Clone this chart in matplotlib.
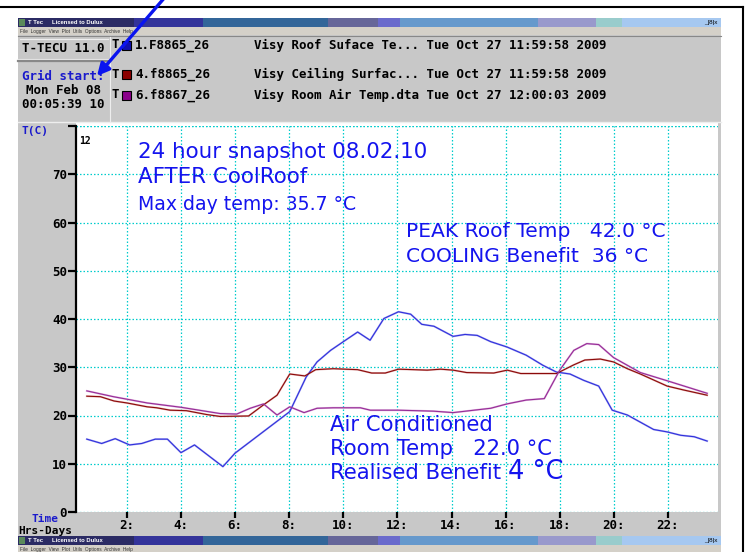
import matplotlib
matplotlib.use("Agg")
import matplotlib.pyplot as plt
from matplotlib.patches import Rectangle

# ---------------- data ----------------
roof_h = [0.52, 1.07, 1.57, 2.1, 2.55, 3.05, 3.5, 4.0, 4.5, 5.55, 6.0, 8.02, 8.63, 9.03,
          9.53, 10.08, 10.53, 10.99, 11.5, 12.04, 12.49, 12.9, 13.35, 14.06, 14.5, 14.95,
          15.45, 16.05, 16.76, 17.38, 17.88, 18.38, 18.88, 19.44, 19.94, 20.5, 21.47,
          21.97, 22.47, 22.97, 23.45]
roof_t = [15.1, 14.2, 15.2, 13.9, 14.2, 15.1, 15.1, 12.3, 13.9, 9.4, 12.2, 20.8, 28.0, 31.1,
          33.5, 35.6, 37.3, 35.6, 40.1, 41.5, 41.0, 38.9, 38.5, 36.4, 36.8, 36.6,
          35.3, 34.2, 32.5, 30.4, 29.0, 28.6, 27.3, 26.1, 21.1, 20.1, 17.1,
          16.6, 15.9, 15.6, 14.7]

ceil_h = [0.52, 1.02, 1.53, 2.0, 2.75, 3.1, 3.6, 4.2, 4.95, 5.45, 6.5, 7.05, 7.55, 8.02,
          8.58, 8.98, 9.63, 10.53, 11.05, 11.55, 12.04, 12.6, 13.1, 13.6, 14.06, 14.56,
          15.56, 16.06, 16.56, 17.88, 18.52, 18.93, 19.5, 19.99, 20.5, 20.98, 21.97,
          22.57, 23.45]
ceil_t = [24.0, 23.9, 23.0, 22.6, 21.8, 21.6, 21.1, 21.0, 20.2, 19.8, 19.9, 22.2, 24.2, 28.6,
          28.2, 29.5, 29.7, 29.5, 28.8, 28.8, 29.6, 29.5, 29.4, 29.6, 29.4, 28.9,
          28.8, 29.4, 28.7, 28.7, 30.5, 31.5, 31.7, 31.1, 29.7, 28.6, 26.1,
          25.3, 24.2]

room_h = [0.52, 1.5, 2.75, 4.0, 5.45, 6.06, 6.56, 7.05, 7.55, 8.02, 8.55, 9.03, 9.63, 10.63,
          11.0, 12.04, 13.33, 14.06, 15.45, 16.05, 16.76, 17.43, 18.0, 18.52, 19.0, 19.44,
          19.99, 20.98, 21.97, 23.45]
room_t = [25.1, 23.9, 22.6, 21.7, 20.4, 20.3, 21.5, 22.4, 20.1, 21.8, 20.6, 21.5, 21.6, 21.6,
          21.1, 21.1, 20.9, 20.6, 21.5, 22.4, 23.2, 23.5, 29.4, 33.5, 34.9, 34.7,
          32.0, 28.9, 27.2, 24.6]

y_ticks = [0, 10, 20, 30, 40, 50, 60, 70, 80]
y_labels = ["0", "10", "20", "30", "40", "50", "60", "70", ""]
x_ticks = [2, 4, 6, 8, 10, 12, 14, 16, 18, 20, 22]
x_labels = ["2:", "4:", "6:", "8:", "10:", "12:", "14:", "16:", "18:", "20:", "22:"]

legend_ids = ["1.F8865_26", "4.f8865_26", "6.f8867_26"]
legend_desc = ["Visy Roof Suface Te... Tue Oct 27 11:59:58 2009",
               "Visy Ceiling Surfac... Tue Oct 27 11:59:58 2009",
               "Visy Room Air Temp.dta Tue Oct 27 12:00:03 2009"]
legend_colors = ["#1010b0", "#8b0000", "#8b008b"]

# ---------------- figure ----------------
W, H = 747, 552
fig = plt.figure(figsize=(W / 100, H / 100), dpi=100, facecolor="white")
bg = fig.add_axes([0, 0, 1, 1], zorder=0)
bg.set_xlim(0, W)
bg.set_ylim(H, 0)
bg.axis("off")

MONO = "DejaVu Sans Mono"
SANS = ["Liberation Sans", "DejaVu Sans"]
WIDE = ["DejaVu Sans"]
GRAY = "#c8c8c8"

def rect(x0, y0, x1, y1, color, **kw):
    bg.add_patch(Rectangle((x0, y0), x1 - x0, y1 - y0, facecolor=color,
                           edgecolor=kw.pop("ec", "none"), lw=kw.pop("lw", 0), **kw))

# outer frame
bg.plot([0, 743], [7, 7], color="black", lw=1.5)
bg.plot([743, 743], [7, 552], color="black", lw=1.5)

# title bars
segs = [(18, 134, "#2b2b64"), (134, 203, "#34349a"), (203, 328, "#336699"),
        (328, 378, "#666699"), (378, 400, "#6a6acc"), (400, 538, "#6699cc"),
        (538, 596, "#9999cc"), (596, 622, "#99cccc"), (622, 721, "#a6c8f0")]
for y0, y1 in [(18, 27), (536, 545)]:
    for a, b, c in segs:
        rect(a, y0, b, y1, c)
    rect(19, y0 + 1, 25, y1 - 1, "#5a8a5a")
    bg.text(28, (y0 + y1) / 2, "T Tec", color="white", fontsize=4.2,
            fontweight="bold", va="center", family=SANS)
    bg.text(52, (y0 + y1) / 2, "Licensed to Dulux", color="white", fontsize=4.2,
            fontweight="bold", va="center", family=SANS)
    bg.text(704, (y0 + y1) / 2, "_|8|x", color="black", fontsize=4.5,
            va="center", family=SANS)
# menu bars
rect(18, 27, 721, 35, "#d4d0c8")
rect(18, 545, 721, 552, "#d4d0c8")
for y in [31, 549]:
    bg.text(20, y, "File  Logger  View  Plot  Utils  Options  Archive  Help",
            fontsize=3.4, color="#333333", va="center", family=SANS)

# header panel
rect(18, 35, 721, 122, GRAY)
bg.plot([18, 721], [36, 36], color="#888888", lw=0.8)
bg.plot([20, 108], [39, 39], color="#eeeeee", lw=0.8)
bg.plot([18, 110], [58.5, 58.5], color="#eeeeee", lw=0.8)
bg.plot([18, 110], [61, 61], color="#888888", lw=1.6)
bg.plot([110, 110], [37, 121], color="#eeeeee", lw=0.8)
bg.plot([18, 721], [121.5, 121.5], color="#eeeeee", lw=1.0)

bg.text(22, 48, "T-TECU 11.0", family=MONO, fontweight="bold", fontsize=9,
        va="center", color="black")
bg.text(22, 77, "Grid start:", family=MONO, fontweight="bold", fontsize=9,
        va="center", color="#1a1acc")
bg.text(26, 91, "Mon Feb 08", family=MONO, fontweight="bold", fontsize=9,
        va="center", color="black")
bg.text(22, 105, "00:05:39 10", family=MONO, fontweight="bold", fontsize=9,
        va="center", color="black")

for i, yy in enumerate([45, 74, 95]):
    bg.text(112, yy, "T", family=MONO, fontweight="bold", fontsize=9, va="center")
    rect(122, yy - 4.5, 131, yy + 4.5, legend_colors[i], ec="black", lw=0.8)
    bg.text(135, yy, legend_ids[i], family=MONO, fontweight="bold", fontsize=9,
            va="center")
    bg.text(254, yy, legend_desc[i], family=MONO, fontweight="bold", fontsize=9,
            va="center")

# gray surrounds of plot
rect(18, 122, 76, 536, GRAY)
rect(18, 512, 721, 536, GRAY)
rect(718, 122, 721, 536, GRAY)

bg.text(22, 131, "T(C)", family=MONO, fontweight="bold", fontsize=8,
        va="center", color="#1a1acc")
bg.text(32, 519.5, "Time", family=MONO, fontweight="bold", fontsize=8,
        va="center", color="#1a1acc")
bg.text(18, 530.5, "Hrs-Days", family=MONO, fontweight="bold", fontsize=8,
        va="center", color="black")

# blue arrow
bg.annotate("", xy=(97, 76), xytext=(166, -4),
            arrowprops=dict(arrowstyle="-|>", color="#0a14f0", lw=2.4,
                            mutation_scale=18, shrinkA=0, shrinkB=0))

# ---------------- plot ----------------
ax = fig.add_axes([76 / W, (H - 512) / H, (718 - 76) / W, (512 - 126) / H], zorder=2)
ax.set_facecolor("white")
ax.set_xlim(0.12, 23.85)
ax.set_ylim(0, 80)
for s in ["top", "right", "bottom"]:
    ax.spines[s].set_visible(False)
ax.spines["left"].set_color("black")
ax.spines["left"].set_linewidth(1.6)

ax.set_yticks(y_ticks)
ax.set_yticklabels(y_labels, family=MONO, fontweight="bold", fontsize=9)
ax.set_xticks(x_ticks)
ax.set_xticklabels(x_labels, family=MONO, fontweight="bold", fontsize=9)
ax.tick_params(axis="y", direction="out", length=6, width=1.6, pad=0.5)
ax.tick_params(axis="x", direction="out", length=4.5, width=1.6, pad=0.5)

ax.set_axisbelow(True)
ax.grid(True, color="#00cccc", linestyle=(0, (1.2, 1.6)), linewidth=0.9)
ax.axhline(80, color="#00cccc", linestyle=(0, (1.2, 1.6)), linewidth=0.9, zorder=1)

series = [(roof_h, roof_t, "#3030dc", "#b4b4f2"),
          (ceil_h, ceil_t, "#8b0a0a", "#e4b4b4"),
          (room_h, room_t, "#962c96", "#e0b4e0")]
for h, t, c, halo in series:
    ax.plot(h, t, color=halo, lw=1.4, zorder=3, solid_joinstyle="round")
    ax.plot(h, t, color=c, lw=0.8, zorder=4)

TXT = "#1414ee"
# annotation texts drawn on an overlay axes above the plot
ov = fig.add_axes([0, 0, 1, 1], zorder=5)
ov.set_xlim(0, W)
ov.set_ylim(H, 0)
ov.axis("off")
ov.patch.set_alpha(0)

def otext(x, y, s, size):
    ov.text(x, y, s, color=TXT, fontsize=size, family=WIDE, va="baseline")

otext(138, 158, "24 hour snapshot 08.02.10", 15.4)
otext(138, 183, "AFTER CoolRoof", 15.4)
otext(138, 210, "Max day temp: 35.7 °C", 13.6)
otext(406, 237, "PEAK Roof Temp   42.0 °C", 14.6)
otext(406, 262, "COOLING Benefit  36 °C", 14.6)
otext(330, 431, "Air Conditioned", 15.2)
otext(330, 455, "Room Temp   22.0 °C", 15.2)
otext(330, 479, "Realised Benefit", 15.2)
otext(508, 479, "4 °C", 18.5)

ov.text(79, 141, "12", family=MONO, fontweight="bold", fontsize=7, va="center",
        color="black")

fig.savefig("out.png", dpi=100, facecolor="white")
